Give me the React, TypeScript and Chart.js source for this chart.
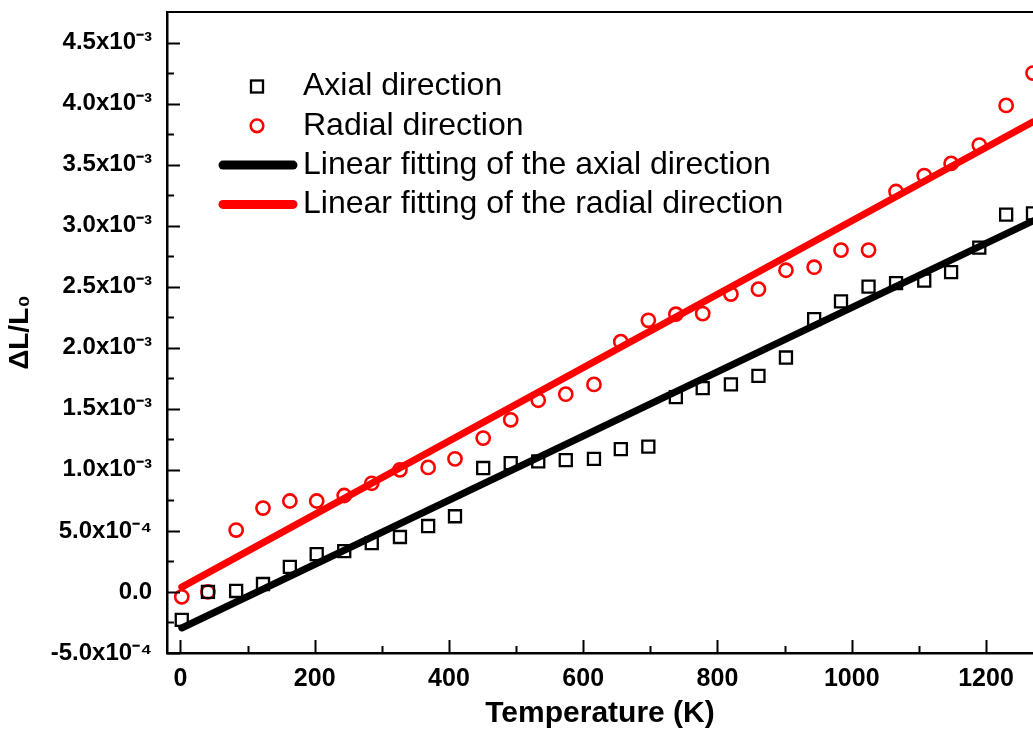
import { useEffect, useRef } from 'react';
import { Chart, registerables } from 'chart.js';

Chart.register(...registerables);

// Temperature (K) of each measurement
const temperatures = [2, 41, 83, 123, 163, 203, 244, 285, 327, 369, 409, 451, 492, 533, 574, 616, 656, 697, 738, 778, 820, 861, 902, 944, 984, 1025, 1066, 1108, 1148, 1190, 1230, 1270];
// ΔL/L0, axial direction
const axialStrain = [-0.229e-3, 0.0, 0.008e-3, 0.065e-3, 0.205e-3, 0.31e-3, 0.335e-3, 0.40e-3, 0.45e-3, 0.54e-3, 0.62e-3, 1.015e-3, 1.055e-3, 1.07e-3, 1.08e-3, 1.09e-3, 1.17e-3, 1.19e-3, 1.595e-3, 1.67e-3, 1.70e-3, 1.77e-3, 1.92e-3, 2.234e-3, 2.38e-3, 2.50e-3, 2.53e-3, 2.55e-3, 2.62e-3, 2.82e-3, 3.09e-3, 3.10e-3];
// ΔL/L0, radial direction
const radialStrain = [-0.04e-3, 0.0, 0.507e-3, 0.687e-3, 0.745e-3, 0.745e-3, 0.79e-3, 0.89e-3, 1.0e-3, 1.02e-3, 1.09e-3, 1.26e-3, 1.41e-3, 1.57e-3, 1.62e-3, 1.70e-3, 2.05e-3, 2.225e-3, 2.275e-3, 2.28e-3, 2.44e-3, 2.48e-3, 2.635e-3, 2.66e-3, 2.80e-3, 2.80e-3, 3.28e-3, 3.41e-3, 3.51e-3, 3.66e-3, 3.985e-3, 4.25e-3];
// Linear fits (end points)
const fitTemperatures = [2, 1270];
const axialFit = [-0.295e-3, 3.04e-3];
const radialFit = [0.04e-3, 3.85e-3];

// Axis ticks
const xMajorTicks = [0, 200, 400, 600, 800, 1000, 1200];
const xMinorTicks = [100, 300, 500, 700, 900, 1100];
const yTickValues = [-0.5e-3, 0, 0.5e-3, 1.0e-3, 1.5e-3, 2.0e-3, 2.5e-3, 3.0e-3, 3.5e-3, 4.0e-3, 4.5e-3];
const yTickLabels = ['-5.0x10⁻⁴', '0.0', '5.0x10⁻⁴', '1.0x10⁻³', '1.5x10⁻³', '2.0x10⁻³', '2.5x10⁻³', '3.0x10⁻³', '3.5x10⁻³', '4.0x10⁻³', '4.5x10⁻³'];
const yMinorTicks = [-0.25e-3, 0.25e-3, 0.75e-3, 1.25e-3, 1.75e-3, 2.25e-3, 2.75e-3, 3.25e-3, 3.75e-3, 4.25e-3];

const FONT = '"Liberation Sans", Arial, sans-serif';

// Make the plot area run to the right edge of the canvas (the reference is cropped there)
const fullWidthPlugin = {
  id: 'fullWidth',
  afterLayout(chart: any) {
    const a = chart.chartArea;
    const x = chart.scales.x;
    a.right = chart.width;
    a.width = a.right - a.left;
    x.right = chart.width;
    x.width = x.right - x.left;
    x.configure();
  },
};

const framePlugin = {
  id: 'frame',
  afterDatasetsDraw(chart: any) {
    const { ctx, chartArea: a, scales } = chart;
    const x = scales.x;
    const y = scales.y;
    ctx.save();
    ctx.strokeStyle = '#000';
    ctx.lineWidth = 2.2;
    ctx.beginPath();
    ctx.moveTo(a.left, a.top);
    ctx.lineTo(a.right, a.top);
    ctx.stroke();
    ctx.lineWidth = 2;
    const xt = [...xMajorTicks.map((v) => [v, 13]), ...xMinorTicks.map((v) => [v, 7])];
    xt.forEach(([v, len]) => {
      const px = Math.round(x.getPixelForValue(v)) + 0.5;
      ctx.beginPath();
      ctx.moveTo(px, a.bottom);
      ctx.lineTo(px, a.bottom - len);
      ctx.stroke();
    });
    const yt = [...yTickValues.map((v) => [v, 13]), ...yMinorTicks.map((v) => [v, 7])];
    yt.forEach(([v, len]) => {
      const py = Math.round(y.getPixelForValue(v)) + 0.5;
      ctx.beginPath();
      ctx.moveTo(a.left, py);
      ctx.lineTo(a.left + len, py);
      ctx.stroke();
    });
    ctx.restore();
  },
};

const legendPlugin = {
  id: 'insideLegend',
  afterDraw(chart: any) {
    const { ctx, chartArea: a } = chart;
    ctx.save();
    chart.data.datasets.forEach((ds: any, i: number) => {
      const yy = a.top + 74.5 + i * 39.3;
      const mx = a.left + 90;
      if (ds.showLine) {
        ctx.strokeStyle = ds.borderColor;
        ctx.lineWidth = 9;
        ctx.lineCap = 'round';
        ctx.beginPath();
        ctx.moveTo(a.left + 56, yy);
        ctx.lineTo(a.left + 126, yy);
        ctx.stroke();
      } else if (ds.pointStyle === 'rect') {
        ctx.strokeStyle = ds.pointBorderColor;
        ctx.lineWidth = ds.pointBorderWidth;
        ctx.strokeRect(mx - 6, yy - 6, 12, 12);
      } else {
        ctx.strokeStyle = ds.pointBorderColor;
        ctx.lineWidth = ds.pointBorderWidth;
        ctx.beginPath();
        ctx.arc(mx, yy, 6.3, 0, Math.PI * 2);
        ctx.stroke();
      }
      ctx.fillStyle = '#000';
      ctx.font = `32px ${FONT}`;
      ctx.textBaseline = 'middle';
      ctx.textAlign = 'left';
      ctx.fillText(ds.label, a.left + 136, yy);
    });
    ctx.restore();
  },
};

export default function App() {
  const canvasRef = useRef<HTMLCanvasElement | null>(null);

  useEffect(() => {
    if (!canvasRef.current) return;
    document.documentElement.style.overflow = 'hidden';
    document.body.style.overflow = 'hidden';
    const toPoints = (xs: number[], ys: number[]) => xs.map((t, i) => ({ x: t, y: ys[i] }));
    const chart = new Chart(canvasRef.current, {
      type: 'scatter',
      data: {
        datasets: [
          {
            label: 'Axial direction',
            data: toPoints(temperatures, axialStrain),
            showLine: false,
            pointStyle: 'rect',
            pointRadius: 8.5,
            pointBorderWidth: 2.3,
            pointBorderColor: '#000',
            pointBackgroundColor: 'rgba(0,0,0,0)',
            borderColor: '#000',
          },
          {
            label: 'Radial direction',
            data: toPoints(temperatures, radialStrain),
            showLine: false,
            pointStyle: 'circle',
            pointRadius: 6.6,
            pointBorderWidth: 2.6,
            pointBorderColor: '#ff0000',
            pointBackgroundColor: 'rgba(0,0,0,0)',
            borderColor: '#ff0000',
          },
          {
            label: 'Linear fitting of the axial direction',
            data: toPoints(fitTemperatures, axialFit),
            showLine: true,
            borderColor: '#000',
            borderWidth: 7,
            borderCapStyle: 'round',
            pointRadius: 0,
          },
          {
            label: 'Linear fitting of the radial direction',
            data: toPoints(fitTemperatures, radialFit),
            showLine: true,
            borderColor: '#ff0000',
            borderWidth: 7,
            borderCapStyle: 'round',
            pointRadius: 0,
          },
        ],
      } as any,
      options: {
        animation: false,
        responsive: false,
        maintainAspectRatio: false,
        devicePixelRatio: 1,
        layout: { padding: { left: 0, right: 0, top: 12, bottom: 0 } },
        plugins: {
          legend: { display: false },
          tooltip: { enabled: false },
        },
        scales: {
          x: {
            type: 'linear',
            min: -20,
            max: 1270,
            grid: { display: false, drawTicks: false },
            border: { display: true, color: '#000', width: 2.5 },
            afterBuildTicks: (scale: any) => {
              scale.ticks = xMajorTicks.map((v) => ({ value: v }));
            },
            afterFit: (scale: any) => {
              scale.height = 80;
              scale.paddingLeft = 0;
              scale.paddingRight = 0;
            },
            ticks: {
              padding: 11,
              color: '#000',
              maxRotation: 0,
              autoSkip: false,
              font: { family: FONT, weight: 'bold', size: 25 },
              callback: (v: any) => String(v),
            },
            title: {
              display: true,
              text: 'Temperature (K)',
              color: '#000',
              font: { family: FONT, weight: 'bold', size: 30 },
              padding: { top: 0, bottom: 1 },
            },
          },
          y: {
            type: 'linear',
            min: -0.5e-3,
            max: 4.75e-3,
            grid: { display: false, drawTicks: false },
            border: { display: true, color: '#000', width: 2.5 },
            afterBuildTicks: (scale: any) => {
              scale.ticks = yTickValues.map((v) => ({ value: v }));
            },
            afterFit: (scale: any) => {
              scale.width = 167;
              scale.paddingTop = 0;
              scale.paddingBottom = 0;
            },
            ticks: {
              padding: 15,
              color: '#000',
              autoSkip: false,
              font: { family: FONT, weight: 'bold', size: 24 },
              callback: (_v: any, i: number) => yTickLabels[i],
            },
            title: {
              display: true,
              text: 'ΔL/L₀',
              color: '#000',
              font: { family: FONT, weight: 'bold', size: 28 },
              padding: { top: 3, bottom: 0 },
            },
          },
        },
      } as any,
      plugins: [fullWidthPlugin, framePlugin, legendPlugin],
    });
    return () => chart.destroy();
  }, []);

  return (
    <div style={{ position: 'absolute', left: 0, top: 0, width: 1033, height: 733, background: '#fff', overflow: 'hidden' }}>
      <canvas ref={canvasRef} width={1033} height={733} style={{ display: 'block', width: 1033, height: 733 }} />
    </div>
  );
}
